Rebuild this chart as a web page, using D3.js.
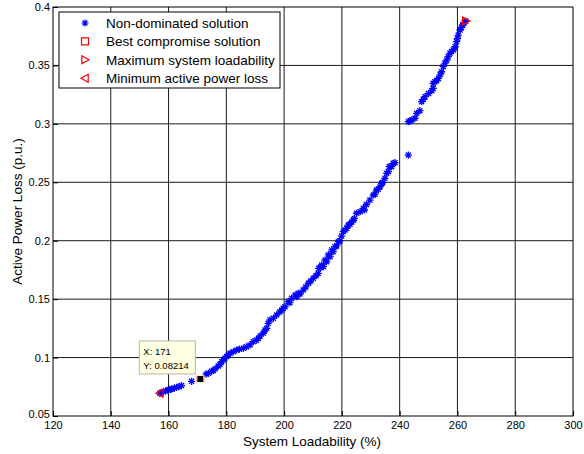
<!DOCTYPE html>
<html>
<head>
<meta charset="utf-8">
<script src="https://cdn.jsdelivr.net/npm/d3@7"></script>
<style>
	body{margin:0;background:#fff;}
	svg{display:block;font-family:Arial,"Liberation Sans",sans-serif;}
	.grid line{stroke:#1a1a1a;stroke-width:1;}
	.axis path{display:none;}
	.axis line{stroke:#000;}
	.axis text{fill:#000;font-size:11px;}
</style>
</head>
<body>
<div id="chart"></div>
<script>
// pareto front
const loadability = [
	157.0,157.5,158.2,159.0,159.9,160.5,161.1,162.0,162.8,163.6,164.5,168.0,
	173.0,173.8,174.9,175.5,176.1,177.2,177.8,178.4,179.0,179.5,180.1,180.7,
	181.3,182.4,183.6,184.5,185.9,187.0,188.2,189.3,190.5,191.1,191.7,192.8,
	193.4,194.0,194.5,195.1,196.3,197.4,198.5,199.2,199.7,200.3,201.4,202.0,
	202.6,203.8,204.4,204.9,205.5,206.6,207.5,208.4,209.2,210.1,211.0,211.8,
	212.0,212.5,213.0,213.6,214.2,214.7,215.3,215.9,216.5,217.0,217.6,218.2,
	218.8,219.3,219.9,220.5,221.1,221.7,222.2,222.8,223.4,224.0,224.3,225.1,
	226.3,227.4,227.8,228.5,229.7,230.9,231.5,232.0,232.6,233.2,233.8,234.1,
	234.9,235.5,236.1,236.4,237.2,237.8,238.4,
	243.0,
	243.0,243.6,244.2,245.3,245.9,247.0,247.6,248.2,248.8,250.0,251.1,251.6,
	251.6,252.2,252.8,253.4,254.0,254.5,255.1,255.7,256.3,256.8,257.4,258.0,
	258.6,259.2,259.7,260.0,260.3,260.9,261.4,261.8,262.3,262.9
];
const powerLoss = [
	0.0694,0.0700,0.0708,0.0715,0.0722,0.0727,0.0731,0.0738,0.0746,0.0752,0.0760,0.0797,
	0.0858,0.0865,0.0882,0.0890,0.0902,0.0928,0.0940,0.0965,0.0980,0.0994,0.1010,0.1022,
	0.1037,0.1050,0.1065,0.1072,0.1079,0.1093,0.1108,0.1136,0.1150,0.1165,0.1185,0.1208,
	0.1236,0.1250,0.1293,0.1322,0.1336,0.1364,0.1390,0.1407,0.1421,0.1435,0.1478,0.1470,
	0.1507,0.1535,0.1521,0.1550,0.1544,0.1578,0.1605,0.1636,0.1655,0.1678,0.1700,0.1721,
	0.1764,0.1770,0.1792,0.1778,0.1835,0.1820,0.1878,0.1863,0.1921,0.1906,0.1949,0.1955,
	0.1992,0.1998,0.2040,0.2077,0.2092,0.2106,0.2134,0.2140,0.2160,0.2177,0.2191,0.2235,
	0.2248,0.2277,0.2263,0.2310,0.2348,0.2391,0.2398,0.2434,0.2440,0.2462,0.2491,0.2497,
	0.2534,0.2577,0.2591,0.2634,0.2634,0.2662,0.2668,
	0.2733,
	0.3019,0.3025,0.3033,0.3048,0.3090,0.3113,0.3190,0.3210,0.3233,0.3260,0.3284,0.3304,
	0.3347,0.3361,0.3370,0.3389,0.3420,0.3446,0.3489,0.3520,0.3546,0.3575,0.3604,0.3620,
	0.3632,0.3660,0.3703,0.3730,0.3760,0.3803,0.3825,0.3846,0.3865,0.3880
];

const bestPoint = [171, 0.0817];      // marker position
const bestTip = ['X: 171', 'Y: 0.08214'];
const maxLoadPoint = [262.9, 0.388];
const minLossPoint = [157.0, 0.0694];

const xTicks = [120,140,160,180,200,220,240,260,280,300];
const yTicks = [0.05,0.1,0.15,0.2,0.25,0.3,0.35,0.4];

const legendLabels = ['Non-dominated solution','Best compromise solution','Maximum system loadability','Minimum active power loss'];

const width = 584, height = 454;
const margin = {top:7, right:11, bottom:38, left:53};

const svg = d3.select('#chart').append('svg')
	.attr('width', width)
	.attr('height', height);

const x = d3.scaleLinear().domain([120,300]).range([margin.left, width - margin.right]);
const y = d3.scaleLinear().domain([0.05,0.4]).range([height - margin.bottom, margin.top]);

// marker shapes
const star = r => {
	const d = r*0.7071;
	return `M0,${-r}V${r}M${-r},0H${r}M${-d},${-d}L${d},${d}M${-d},${d}L${d},${-d}`;
};
const triRight = s => `M${-s*0.8},${-s}L${s},0L${-s*0.8},${s}Z`;
const triLeft = s => `M${s*0.8},${-s}L${-s},0L${s*0.8},${s}Z`;
const square = s => `M${-s},${-s}H${s}V${s}H${-s}Z`;

// grid
const grid = svg.append('g').attr('class','grid');
grid.selectAll('.vx').data(xTicks.slice(1,-1)).enter().append('line')
	.attr('x1', d => x(d)).attr('x2', d => x(d))
	.attr('y1', y(0.05)).attr('y2', y(0.4));
grid.selectAll('.hy').data(yTicks.slice(1,-1)).enter().append('line')
	.attr('y1', d => y(d)).attr('y2', d => y(d))
	.attr('x1', x(120)).attr('x2', x(300));

// axes, ticks point inward like matlab
svg.append('g')
	.attr('class','axis x')
	.attr('transform', `translate(0,${y(0.05)})`)
	.call(d3.axisBottom(x).tickValues(xTicks).tickSizeInner(-5).tickSizeOuter(0).tickPadding(5));

svg.append('g')
	.attr('class','axis y')
	.attr('transform', `translate(${x(120)},0)`)
	.call(d3.axisLeft(y).tickValues(yTicks).tickFormat(d => String(+d.toFixed(2))).tickSizeInner(-5).tickSizeOuter(0).tickPadding(3));

// keep 0.05 from running into 120
svg.selectAll('.y .tick text').filter(d => d == 0.05).attr('dy','0.1em');

svg.append('rect')
	.attr('x', x(120)).attr('y', y(0.4))
	.attr('width', x(300) - x(120)).attr('height', y(0.05) - y(0.4))
	.style('fill','none').style('stroke','#000');

// axis titles
svg.append('text')
	.attr('x', (x(120)+x(300))/2 - 1)
	.attr('y', height - 8)
	.attr('text-anchor','middle')
	.style('font-size','13.5px')
	.text('System Loadability (%)');

svg.append('text')
	.attr('transform', `translate(22,${(y(0.05)+y(0.4))/2}) rotate(-90)`)
	.attr('text-anchor','middle')
	.style('font-size','13.5px')
	.text('Active Power Loss (p.u.)');

// points
const pts = loadability.map((v,i) => [v, powerLoss[i]]);
svg.append('g').selectAll('path').data(pts).enter().append('path')
	.attr('transform', d => `translate(${x(d[0])},${y(d[1])})`)
	.attr('d', star(3.6))
	.style('fill','none').style('stroke','#0000ff').style('stroke-width',1.3);

svg.append('path')
	.attr('transform', `translate(${x(maxLoadPoint[0])},${y(maxLoadPoint[1])})`)
	.attr('d', triRight(4))
	.style('fill','none').style('stroke','#ff0000').style('stroke-width',1.2);

svg.append('path')
	.attr('transform', `translate(${x(minLossPoint[0])},${y(minLossPoint[1])})`)
	.attr('d', triLeft(4))
	.style('fill','none').style('stroke','#ff0000').style('stroke-width',1.2);

// best compromise, under the data tip marker
const bx = x(bestPoint[0]), by = y(bestPoint[1]);
svg.append('path')
	.attr('transform', `translate(${bx},${by})`)
	.attr('d', square(3.5))
	.style('fill','none').style('stroke','#ff0000');
svg.append('path')
	.attr('transform', `translate(${bx},${by})`)
	.attr('d', square(3.5))
	.style('fill','#000').style('stroke','#fffbd0').style('stroke-width',1);

// data tip
const tip = svg.append('g').attr('transform', `translate(${bx-61},${by-38})`);
tip.append('rect')
	.attr('width',56).attr('height',33)
	.style('fill','#ffffe1').style('stroke','#b8b8a8');
tip.selectAll('text').data(bestTip).enter().append('text')
	.attr('x',4).attr('y',(d,i) => 14 + i*14)
	.style('font-size','9.5px')
	.text(d => d);

// legend
const legend = svg.append('g').attr('transform','translate(59,12)');
legend.append('rect')
	.attr('width',221).attr('height',76)
	.style('fill','#fff').style('stroke','#000');

const legendMarks = [
	{d: star(3.5), stroke:'#0000ff'},
	{d: square(3.5), stroke:'#ff0000'},
	{d: triRight(4), stroke:'#ff0000'},
	{d: triLeft(4), stroke:'#ff0000'}
];

const rows = legend.selectAll('.row').data(legendLabels).enter().append('g')
	.attr('transform',(d,i) => `translate(0,${11 + i*18.4})`);
rows.append('path')
	.attr('transform','translate(26,0)')
	.attr('d',(d,i) => legendMarks[i].d)
	.style('fill','none')
	.style('stroke',(d,i) => legendMarks[i].stroke)
	.style('stroke-width',1.2);
rows.append('text')
	.attr('x',47).attr('dy','0.36em')
	.style('font-size','13.5px')
	.text(d => d);
</script>
</body>
</html>
